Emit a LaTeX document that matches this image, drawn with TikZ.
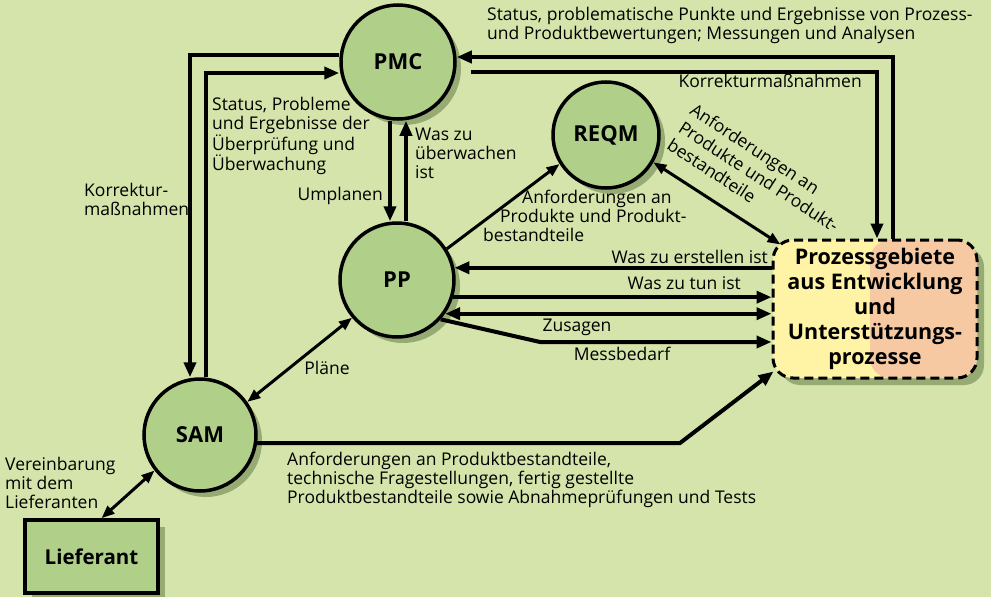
\documentclass[tikz,border=0pt]{standalone}
\usepackage{fontspec}
\setmainfont{Open Sans}
\usetikzlibrary{arrows.meta,shadows,calc}
\definecolor{bgc}{RGB}{213,228,170}
\definecolor{circc}{RGB}{176,208,138}
\definecolor{shadc}{RGB}{150,170,116}
\definecolor{yelc}{RGB}{255,243,165}
\definecolor{orac}{RGB}{246,201,163}
\tikzset{
  proc/.style={circle,draw,line width=3.5pt,fill=circc,inner sep=0pt,
    font=\fontsize{22}{26}\selectfont\bfseries,
    drop shadow={shadow xshift=6pt,shadow yshift=-6pt,fill=shadc,opacity=1}},
  pbox/.style={rectangle,rounded corners=20pt,draw,line width=3pt,dash pattern=on 9pt off 5pt,
    fill=yelc,align=center,inner sep=0pt,
    font=\fontsize{21.5}{25}\selectfont\bfseries,
    path picture={\fill[orac] ([xshift=-5pt]path picture bounding box.north) rectangle (path picture bounding box.south east);},
    drop shadow={shadow xshift=7pt,shadow yshift=-7pt,fill=shadc,opacity=1}},
  lbox/.style={rectangle,draw,line width=3.5pt,fill=circc,inner sep=0pt,
    font=\fontsize{20.5}{24}\selectfont\bfseries,
    drop shadow={shadow xshift=7pt,shadow yshift=-7pt,fill=shadc,opacity=1}},
  lab/.style={font=\fontsize{17.5}{18.8}\selectfont,inner sep=0pt,align=left},
  rlab/.style={font=\fontsize{17.5}{21}\selectfont,inner sep=0pt,align=left},
  thk/.style={line width=4pt},
  thn/.style={line width=3pt},
  arr/.style={-{Triangle[length=15pt,width=12pt]}},
  arrb/.style={{Triangle[length=15pt,width=12pt]}-{Triangle[length=15pt,width=12pt]}},
  arrs/.style={{Triangle[length=13pt,width=10pt]}-{Triangle[length=13pt,width=10pt]}},
  arrt/.style={-{Triangle[length=13pt,width=10pt]}}
}
\begin{document}
\begin{tikzpicture}[x=1pt,y=-1pt]
\fill[bgc] (0,0) rectangle (991,597);
\useasboundingbox (0,0) rectangle (991,597);

% nodes
\node[proc,minimum size=114pt] (PMC) at (398,62) {PMC};
\node[proc,minimum size=106pt] (REQM) at (606,135) {REQM};
\node[proc,minimum size=114pt] (PP) at (397,280) {PP};
\node[proc,minimum size=112pt] (SAM) at (200,435) {SAM};
\node[pbox,minimum width=204pt,minimum height=138pt] (Box) at (875,309)
  {Prozessgebiete\\aus Entwicklung\\und\\Unterstützungs-\\prozesse};
\node[lbox,minimum width=133pt,minimum height=73pt] (Lief) at (91.5,556.5) {Lieferant};

% coordinates for bends
\coordinate (tr1) at (893,57);
\coordinate (tr2) at (877,72);
\coordinate (tl1) at (190,55);
\coordinate (tl2) at (206,73);
\coordinate (v1) at (390,0);
\coordinate (v2) at (406,0);
\coordinate (h4) at (540,342);
\coordinate (b1) at (680,443);

% PMC <-> Box
\draw[thk,arr] (tr1 |- Box.north) -- (tr1) -- (tr1 -| PMC.east);
\draw[thk,arr,shorten <=14pt] (tr2 -| PMC.east) -- (tr2) -- (tr2 |- Box.north);
% PMC <-> SAM
\draw[thk,arr] (tl1 -| PMC.west) -- (tl1) -- (tl1 |- SAM.north);
\draw[thk,arr] (tl2 |- SAM.north) -- (tl2) -- (tl2 -| PMC.west);
% PMC <-> PP
\draw[thk,arr] (v1 |- PMC.south) -- (v1 |- PP.north);
\draw[thk,arr] (v2 |- PP.north) -- (v2 |- PMC.south);
% PP -> REQM
\draw[thn,arrt] (PP.32) -- (REQM.212);
% REQM <-> Box
\draw[thn,arrs] (REQM.-30) -- ([shift={(9pt,-6pt)}]Box.north west);
% Box <-> PP
\draw[thk,arr] (PP.12 -| Box.west) -- (PP.12);
\draw[thk,arr] (PP.-17) -- (PP.-17 -| Box.west);
\draw[thk,arrb] (PP.-35) -- (PP.-35 -| Box.west);
\draw[thk,arr] (PP.-42) -- (h4) -- (h4 -| Box.west);
% PP <-> SAM
\draw[thn,arrs] (PP.220) -- (SAM.35);
% SAM -> Box
\draw[thk,arr] (SAM.-8) -- (SAM.-8 -| b1) -- ([shift={(2pt,8pt)}]Box.south west);
% SAM <-> Lieferant
\draw[thn,arrs] (SAM.218) -- ([xshift=10pt]Lief.north);

% labels
\node[lab,anchor=north west] (l1) at (487,7) {Status, problematische Punkte und Ergebnisse von Prozess-\\und Produktbewertungen; Messungen und Analysen};
\node[lab,anchor=east] (l2) at (862,81) {Korrekturmaßnahmen};
\node[lab,anchor=north west] (l3) at (212,97) {Status, Probleme\\und Ergebnisse der\\Überprüfung und\\Überwachung};
\node[lab,anchor=north west] (l4) at (84,183) {Korrektur-\\maßnahmen};
\node[lab,anchor=east] (l5) at (383,196) {Umplanen};
\node[lab,anchor=north west] (l6) at (415,128) {Was zu\\überwachen\\ist};
\node[lab,anchor=north west] (l7) at (483,190) {\hspace*{39pt}Anforderungen an\\\hspace*{17pt}Produkte und Produkt-\\bestandteile};
\node[rlab,anchor=north west,rotate=-33] (l8) at (696,102) {Anforderungen an\\Produkte und Produkt-\\bestandteile};
\node[lab,anchor=east] (l9) at (768,257) {Was zu erstellen ist};
\node[lab,anchor=east] (l10) at (741,283) {Was zu tun ist};
\node[lab] (l11) at (577,327) {Zusagen};
\node[lab] (l12) at (622,354) {Messbedarf};
\node[lab] (l13) at (327,368) {Pläne};
\node[lab,anchor=north west] (l14) at (287,452) {Anforderungen an Produktbestandteile,\\technische Fragestellungen, fertig gestellte\\Produktbestandteile sowie Abnahmeprüfungen und Tests};
\node[lab,anchor=north west] (l15) at (5,457) {Vereinbarung\\mit dem\\Lieferanten};
\end{tikzpicture}
\end{document}
